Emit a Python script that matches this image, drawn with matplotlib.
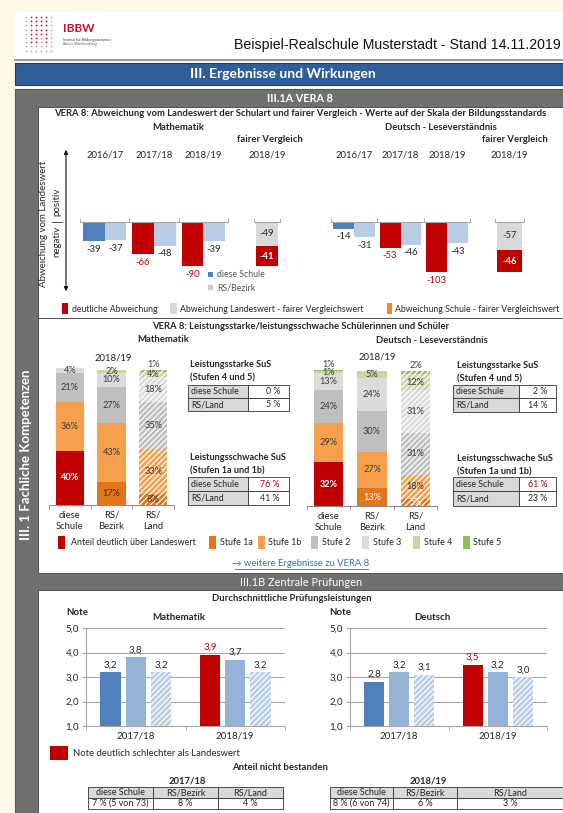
import matplotlib
matplotlib.use("Agg")
import matplotlib.pyplot as plt
from matplotlib.patches import Rectangle
import numpy as np

# ---------------- data ----------------
vera_years = ["2016/17", "2017/18", "2018/19"]
fair_year = "2018/19"
math_school = [-39, -66, -90]
math_bezirk = [-37, -48, -39]
math_school_sig = [False, True, True]
math_fair_land = -49
math_fair_school = -41
deu_school = [-14, -53, -103]
deu_bezirk = [-31, -46, -43]
deu_school_sig = [False, True, True]
deu_fair_land = -57
deu_fair_school = -46

level_groups = ["diese\nSchule", "RS/\nBezirk", "RS/\nLand"]
level_names = ["Stufe 1a", "Stufe 1b", "Stufe 2", "Stufe 3", "Stufe 4", "Stufe 5"]
math_levels = [[40, 36, 21, 4, 0, 0],
               [17, 43, 27, 10, 2, 0],
               [8, 33, 35, 18, 4, 1]]
deu_levels = [[32, 29, 24, 13, 1, 1],
              [13, 27, 30, 24, 5, 0],
              [5, 18, 31, 31, 12, 2]]
math_first_sig = True
deu_first_sig = True
math_strong = ["0 %", "5 %"]
math_weak = ["76 %", "41 %"]
deu_strong = ["2 %", "14 %"]
deu_weak = ["61 %", "23 %"]
math_weak_sig = [True, False]
deu_weak_sig = [True, False]
table_rows = ["diese Schule", "RS/Land"]

exam_years = ["2017/18", "2018/19"]
math_note_school = [3.2, 3.9]
math_note_bezirk = [3.8, 3.7]
math_note_land = [3.2, 3.2]
math_note_sig = [False, True]
deu_note_school = [2.8, 3.5]
deu_note_bezirk = [3.2, 3.2]
deu_note_land = [3.1, 3.0]
deu_note_sig = [False, True]
fail_header = ["diese Schule", "RS/Bezirk", "RS/Land"]
fail_1718 = ["7 % (5 von 73)", "8 %", "4 %"]
fail_1819 = ["8 % (6 von 74)", "6 %", "3 %"]

# ---------------- style ----------------
W, H, DPI = 563, 813, 100
plt.rcParams['font.family'] = ['Lato', 'DejaVu Sans']
plt.rcParams['hatch.color'] = 'white'
plt.rcParams['hatch.linewidth'] = 0.9

BLUE = '#4F81BD'
LBLUE = '#B9CDE5'
MBLUE = '#95B3D7'
RED = '#C00000'
LGREY = '#D9D9D9'
ORANGE = '#EE8A22'
TXT = '#262626'
LEVEL_COLORS = ['#E2761A', '#F6A04D', '#BFBFBF', '#DCDCDC', '#C6D99F', '#9BBB59']
BOLD_SZ = 6.8

fig = plt.figure(figsize=(W / DPI, H / DPI), dpi=DPI)
fig.patch.set_facecolor('#FFF9E8')

bg = fig.add_axes([0, 0, 1, 1])
bg.set_xlim(0, W)
bg.set_ylim(H, 0)
bg.axis('off')


def box(x0, y0, x1, y1, fc, ec='none', lw=0, z=1):
    bg.add_patch(Rectangle((x0, y0), x1 - x0, y1 - y0, fc=fc, ec=ec, lw=lw, zorder=z))


def txt(x, y, s, size=6.5, ha='center', va='center', **kw):
    kw.setdefault('color', TXT)
    bg.text(x, y, s, fontsize=size, ha=ha, va=va, zorder=5, **kw)


def ax_at(x0, y0, x1, y1):
    a = fig.add_axes([x0 / W, 1 - y1 / H, (x1 - x0) / W, (y1 - y0) / H])
    a.patch.set_alpha(0)
    return a


# ---------------- page frame ----------------
box(15, 12, W, H, 'white')
# logo
rng_cols = [26, 31, 36, 41, 46, 51]
for ci, cx in enumerate(rng_cols):
    for ri in range(9):
        cy = 17 + ri * 4.2
        red = (ci in (1, 2, 4) and ri < 7) or (ci == 3 and ri < 5)
        bg.plot(cx, cy, 'o', ms=1.3, mew=0, color='#C8102E' if red else '#C9A9A9', zorder=3)
txt(63, 28, "IBBW", size=8.5, ha='left', color='#C8102E', weight='bold')
txt(63, 40, "Institut für Bildungsanalysen", size=2.8, ha='left', color='#444444')
txt(63, 44.5, "Baden-Württemberg", size=2.8, ha='left', color='#666666')
txt(561, 45, "Beispiel-Realschule Musterstadt - Stand 14.11.2019", size=10.2, ha='right',
    family='Liberation Sans', color='#111111')
bg.plot([15, W], [60.5, 60.5], color='#9A9A9A', lw=1.5, zorder=3)

# banner
box(15, 63, W, 85, '#2F5E98', ec='#1F3F66', lw=0.8)
txt(283, 74, "III. Ergebnisse und Wirkungen", size=10.0, color='white', weight='bold')

# grey frame and panels
box(15, 89, W, H, '#707070', ec='#555555', lw=0.8)
box(38, 107, W, 318, 'white', ec='#404040', lw=0.6, z=2)
box(38, 318, W, 573, 'white', ec='#404040', lw=0.6, z=2)
box(38, 590, W, H + 2, 'white', ec='#404040', lw=0.6, z=2)
txt(300, 98, "III.1A VERA 8", size=7.8, color='white', weight='bold')
txt(301, 582, "III.1B Zentrale Prüfungen", size=7.9, color='white')
txt(26, 455, "III. 1 Fachliche Kompetenzen", size=9.5, color='white', weight='bold', rotation=90)

# ---------------- Panel 1: VERA deviation ----------------
txt(300, 114, "VERA 8: Abweichung vom Landeswert der Schulart und fairer Vergleich - Werte auf der Skala der Bildungsstandards",
    size=BOLD_SZ, weight='bold')
txt(178, 127, "Mathematik", size=BOLD_SZ, weight='bold')
txt(441, 127, "Deutsch - Leseverständnis", size=BOLD_SZ, weight='bold')
txt(270, 139, "fairer Vergleich", size=BOLD_SZ, weight='bold')
txt(515, 139, "fairer Vergleich", size=BOLD_SZ, weight='bold')

# y-axis annotation
bg.annotate("", xy=(66, 147), xytext=(66, 294),
            arrowprops=dict(arrowstyle='<|-|>', color='#111111', lw=0.8, mutation_scale=6), zorder=5)
txt(43, 224, "Abweichung vom Landeswert", size=7.0, rotation=90)
txt(57, 202, "positiv", size=7.0, rotation=90)
txt(57, 241, "negativ", size=7.0, rotation=90)
bg.plot([52, 62], [222, 222], color='#262626', lw=0.6, zorder=5)

YTOP, YBOT = 151, 293


def vera_main(x0, x1, school, bezirk, sig, width):
    ax = ax_at(x0, YTOP, x1, YBOT)
    n = len(vera_years)
    x = np.arange(n)
    ax.set_xlim(-0.5, n - 0.5)
    ax.set_ylim(-145, 145)
    cols = [RED if s else BLUE for s in sig]
    ax.bar(x - width / 2, school, width, color=cols, zorder=2)
    ax.bar(x + width / 2, bezirk, width, color=LBLUE, zorder=2)
    for xi, v, s in zip(x, school, sig):
        ax.annotate(f"{v}", (xi - width / 2, v), xytext=(0, -2.5), textcoords='offset points',
                    ha='center', va='top', fontsize=6.8, color=RED if s else TXT)
    for xi, v in zip(x, bezirk):
        ax.annotate(f"{v}", (xi + width / 2, v), xytext=(0, -2.5), textcoords='offset points',
                    ha='center', va='top', fontsize=6.8, color=TXT)
    for xi, yr in zip(x, vera_years):
        ax.text(xi, 0.97, yr, transform=ax.get_xaxis_transform(), ha='center', va='center',
                fontsize=6.8, color=TXT)
    for s in ['top', 'right', 'left']:
        ax.spines[s].set_visible(False)
    ax.spines['bottom'].set_position(('data', 0))
    ax.spines['bottom'].set_color('#A6A6A6')
    ax.set_yticks([])
    ax.set_xticks([])
    ax.set_xticks(np.arange(-0.5, n), minor=True)
    ax.tick_params(axis='x', which='minor', direction='in', length=3, color='#A6A6A6')
    return ax


def vera_fair(x0, x1, land, school):
    ax = ax_at(x0, YTOP, x1, YBOT)
    ax.set_xlim(-0.5, 0.5)
    ax.set_ylim(-145, 145)
    ax.bar(0, land, 0.86, color=LGREY, zorder=2)
    ax.bar(0, school, 0.86, bottom=land, color=RED, zorder=2)
    ax.text(0, land / 2, f"{land}", ha='center', va='center', fontsize=6.8, color=TXT)
    ax.text(0, land + school / 2, f"{school}", ha='center', va='center', fontsize=6.8,
            color='white', weight='bold')
    ax.text(0, 0.97, fair_year, transform=ax.get_xaxis_transform(), ha='center', va='center',
            fontsize=6.8, color=TXT)
    for s in ['top', 'right', 'left']:
        ax.spines[s].set_visible(False)
    ax.spines['bottom'].set_position(('data', 0))
    ax.spines['bottom'].set_color('#A6A6A6')
    ax.set_yticks([])
    ax.set_xticks([])
    ax.set_xticks([-0.5, 0.5], minor=True)
    ax.tick_params(axis='x', which='minor', direction='in', length=3, color='#A6A6A6')
    return ax


axm = vera_main(80, 228, math_school, math_bezirk, math_school_sig, 0.44)
vera_fair(254, 280, math_fair_land, math_fair_school)
vera_main(331, 470, deu_school, deu_bezirk, deu_school_sig, 0.45)
vera_fair(495, 524, deu_fair_land, deu_fair_school)

# small legend inside math chart
box(208, 272, 213, 277, BLUE, z=5)
txt(217, 274.5, "diese Schule", size=6.3, ha='left', color='#555555')
box(208, 285, 213, 290, LBLUE, z=5)
txt(217, 287.5, "RS/Bezirk", size=6.3, ha='left', color='#555555')

# bottom legend panel 1
box(62, 303, 68, 314, RED, z=5)
txt(72, 309, "deutliche Abweichung", size=6.35, ha='left')
box(170, 303, 177, 314, LGREY, z=5)
txt(180, 309, "Abweichung Landeswert - fairer Vergleichswert", size=6.35, ha='left')
box(387, 303, 392, 314, ORANGE, z=5)
txt(395, 309, "Abweichung Schule - fairer Vergleichswert", size=6.35, ha='left')

# ---------------- Panel 2: levels ----------------
txt(301, 326, "VERA 8: Leistungsstarke/leistungsschwache Schülerinnen und Schüler", size=BOLD_SZ, weight='bold')
txt(163, 339, "Mathematik", size=BOLD_SZ, weight='bold')
txt(432, 340, "Deutsch - Leseverständnis", size=BOLD_SZ, weight='bold')
txt(113, 358, "2018/19", size=6.8)
txt(377, 357, "2018/19", size=6.8)

PX_PER_PCT = 1.36


def levels_chart(x0, x1, ybot, data, first_sig, first_label_color):
    ytop = 352
    ax = ax_at(x0, ytop, x1, ybot)
    n = len(level_groups)
    ax.set_xlim(-0.5, n - 0.5)
    ax.set_ylim(0, (ybot - ytop) / PX_PER_PCT)
    w = 0.68
    for gi, vals in enumerate(data):
        bottom = 0
        hatch = '//////' if gi == n - 1 else None
        for li, v in enumerate(vals):
            col = LEVEL_COLORS[li]
            lab_col = '#3A3A3A'
            weight = 'normal'
            if li == 0:
                lab_col = first_label_color
                if gi == 0 and first_sig:
                    col = RED
                    lab_col = 'white'
                    weight = 'bold'
            if v > 0:
                ax.bar(gi, v, w, bottom=bottom, color=col, hatch=hatch, edgecolor='white', linewidth=0,
                       zorder=2)
                if li == len(vals) - 1:
                    ax.text(gi, bottom + v + 0.8, f"{v}%", ha='center', va='bottom', fontsize=6.6,
                            color='#3A3A3A')
                else:
                    ax.text(gi, bottom + v / 2, f"{v}%", ha='center', va='center', fontsize=6.6,
                            color=lab_col, weight=weight, zorder=4)
            bottom += v
    for s in ['top', 'right', 'left']:
        ax.spines[s].set_visible(False)
    ax.spines['bottom'].set_color('#8C8C8C')
    ax.set_yticks([])
    ax.set_xticks(np.arange(n))
    ax.set_xticklabels(level_groups, fontsize=6.8, color=TXT, linespacing=1.35)
    ax.tick_params(axis='x', which='major', length=0, pad=4)
    ax.set_xticks(np.arange(-0.5, n), minor=True)
    ax.tick_params(axis='x', which='minor', direction='out', length=3, color='#8C8C8C')
    return ax


levels_chart(49, 174, 505, math_levels, math_first_sig, '#4A2A10')
levels_chart(307, 437, 506, deu_levels, deu_first_sig, 'white')


def small_table(x0, xs, x1, ys, rows, vals, sig):
    for r, (lab, val) in enumerate(zip(rows, vals)):
        y0, y1 = ys[r], ys[r + 1]
        box(x0, y0, xs, y1, LGREY, ec='#333333', lw=0.6, z=3)
        box(xs, y0, x1, y1, 'white', ec='#333333', lw=0.6, z=3)
        txt(x0 + 3, (y0 + y1) / 2, lab, size=6.3, ha='left')
        txt(x1 - 9, (y0 + y1) / 2, val, size=6.3, ha='right', color=RED if sig[r] else TXT)


txt(190, 364, "Leistungsstarke SuS", size=6.6, ha='left', weight='bold')
txt(190, 378, "(Stufen 4 und 5)", size=6.6, ha='left', weight='bold')
small_table(188, 248, 289, [385, 398, 411], table_rows, math_strong, [False, False])
txt(190, 457, "Leistungsschwache SuS", size=6.6, ha='left', weight='bold')
txt(190, 471, "(Stufen 1a und 1b)", size=6.6, ha='left', weight='bold')
small_table(188, 248, 289, [477, 491, 505], table_rows, math_weak, math_weak_sig)

txt(457, 365, "Leistungsstarke SuS", size=6.6, ha='left', weight='bold')
txt(457, 379, "(Stufen 4 und 5)", size=6.6, ha='left', weight='bold')
small_table(453, 519, 556, [385, 398, 412], table_rows, deu_strong, [False, False])
txt(457, 458, "Leistungsschwache SuS", size=6.6, ha='left', weight='bold')
txt(457, 472, "(Stufen 1a und 1b)", size=6.6, ha='left', weight='bold')
small_table(453, 519, 556, [477, 491, 506], table_rows, deu_weak, deu_weak_sig)

# legend panel 2
leg_items = [(58, 71, RED, "Anteil deutlich über Landeswert"),
             (209, 220, LEVEL_COLORS[0], level_names[0]),
             (258, 268, LEVEL_COLORS[1], level_names[1]),
             (311, 322, LEVEL_COLORS[2], level_names[2]),
             (362, 373, LEVEL_COLORS[3], level_names[3]),
             (413, 424, LEVEL_COLORS[4], level_names[4]),
             (463, 473, LEVEL_COLORS[5], level_names[5])]
for sx, tx, c, lab in leg_items:
    box(sx, 536, sx + 7, 549, c, z=5)
    txt(tx, 542.5, lab, size=6.4, ha='left')
txt(301, 563, "→ weitere Ergebnisse zu VERA 8", size=6.8, color='#2E74B5')
bg.plot([235, 368], [568.5, 568.5], color='#2E74B5', lw=0.6, zorder=5)

# ---------------- Panel 3: exams ----------------
txt(292, 598, "Durchschnittliche Prüfungsleistungen", size=BOLD_SZ, weight='bold')
txt(77, 612, "Note", size=7.0, weight='bold')
txt(179, 617, "Mathematik", size=7.0, weight='bold')
txt(340, 612, "Note", size=7.0, weight='bold')
txt(432, 617, "Deutsch", size=7.0, weight='bold')


def exam_chart(x0, x1, school, bezirk, land, sig):
    ax = ax_at(x0, 628, x1, 726)
    n = len(exam_years)
    x = np.arange(n)
    ax.set_xlim(-0.5, n - 0.5)
    ax.set_ylim(1, 5)
    off, w = 0.255, 0.205
    cols = [RED if s else BLUE for s in sig]
    ax.bar(x - off, np.array(school) - 1, w, bottom=1, color=cols, zorder=2)
    ax.bar(x, np.array(bezirk) - 1, w, bottom=1, color=MBLUE, zorder=2)
    ax.bar(x + off, np.array(land) - 1, w, bottom=1, color=LBLUE, hatch='//////',
           edgecolor='white', linewidth=0, zorder=2)
    for xi, v, s in zip(x, school, sig):
        ax.annotate(f"{v:.1f}".replace('.', ','), (xi - off, v), xytext=(0, 2), textcoords='offset points',
                    ha='center', va='bottom', fontsize=7.0, color=RED if s else TXT)
    for xi, v in zip(x, bezirk):
        ax.annotate(f"{v:.1f}".replace('.', ','), (xi, v), xytext=(0, 2), textcoords='offset points',
                    ha='center', va='bottom', fontsize=7.0, color=TXT)
    for xi, v in zip(x, land):
        ax.annotate(f"{v:.1f}".replace('.', ','), (xi + off, v), xytext=(0, 2), textcoords='offset points',
                    ha='center', va='bottom', fontsize=7.0, color=TXT)
    ax.set_yticks([1, 2, 3, 4, 5])
    ax.set_yticklabels([f"{t:.1f}".replace('.', ',') for t in [1, 2, 3, 4, 5]], fontsize=7.0, color=TXT)
    ax.yaxis.grid(True, color='#A6A6A6', lw=0.8)
    ax.set_axisbelow(True)
    for s in ['top', 'right']:
        ax.spines[s].set_visible(False)
    for s in ['left', 'bottom']:
        ax.spines[s].set_color('#A6A6A6')
    ax.tick_params(axis='y', length=3, color='#A6A6A6', pad=2)
    ax.set_xticks(x)
    ax.set_xticklabels(exam_years, fontsize=7.0, color=TXT)
    ax.tick_params(axis='x', which='major', length=0, pad=4)
    ax.set_xticks(np.arange(-0.5, n), minor=True)
    ax.tick_params(axis='x', which='minor', length=3, color='#A6A6A6')
    return ax


exam_chart(86, 285, math_note_school, math_note_bezirk, math_note_land, math_note_sig)
exam_chart(350, 547, deu_note_school, deu_note_bezirk, deu_note_land, deu_note_sig)

box(50, 746, 68, 760, RED, z=5)
txt(73, 753, "Note deutlich schlechter als Landeswert", size=6.8, ha='left')
txt(280, 767, "Anteil nicht bestanden", size=BOLD_SZ, weight='bold')
txt(187, 781, exam_years[0], size=BOLD_SZ, weight='bold')
txt(428, 781, exam_years[1], size=BOLD_SZ, weight='bold')


def fail_table(xs, ys, header, vals):
    for c in range(3):
        box(xs[c], ys[0], xs[c + 1], ys[1], LGREY, ec='#333333', lw=0.6, z=3)
        box(xs[c], ys[1], xs[c + 1], ys[2], 'white', ec='#333333', lw=0.6, z=3)
        cx = (xs[c] + xs[c + 1]) / 2
        txt(cx, (ys[0] + ys[1]) / 2, header[c], size=6.5)
        txt(cx, (ys[1] + ys[2]) / 2, vals[c], size=6.5)


fail_table([88, 153, 218, 283], [787, 798, 809], fail_header, fail_1718)
fail_table([330, 393, 457, 563], [787, 798, 809], fail_header, fail_1819)

fig.savefig("out.png", dpi=DPI, facecolor=fig.get_facecolor())
